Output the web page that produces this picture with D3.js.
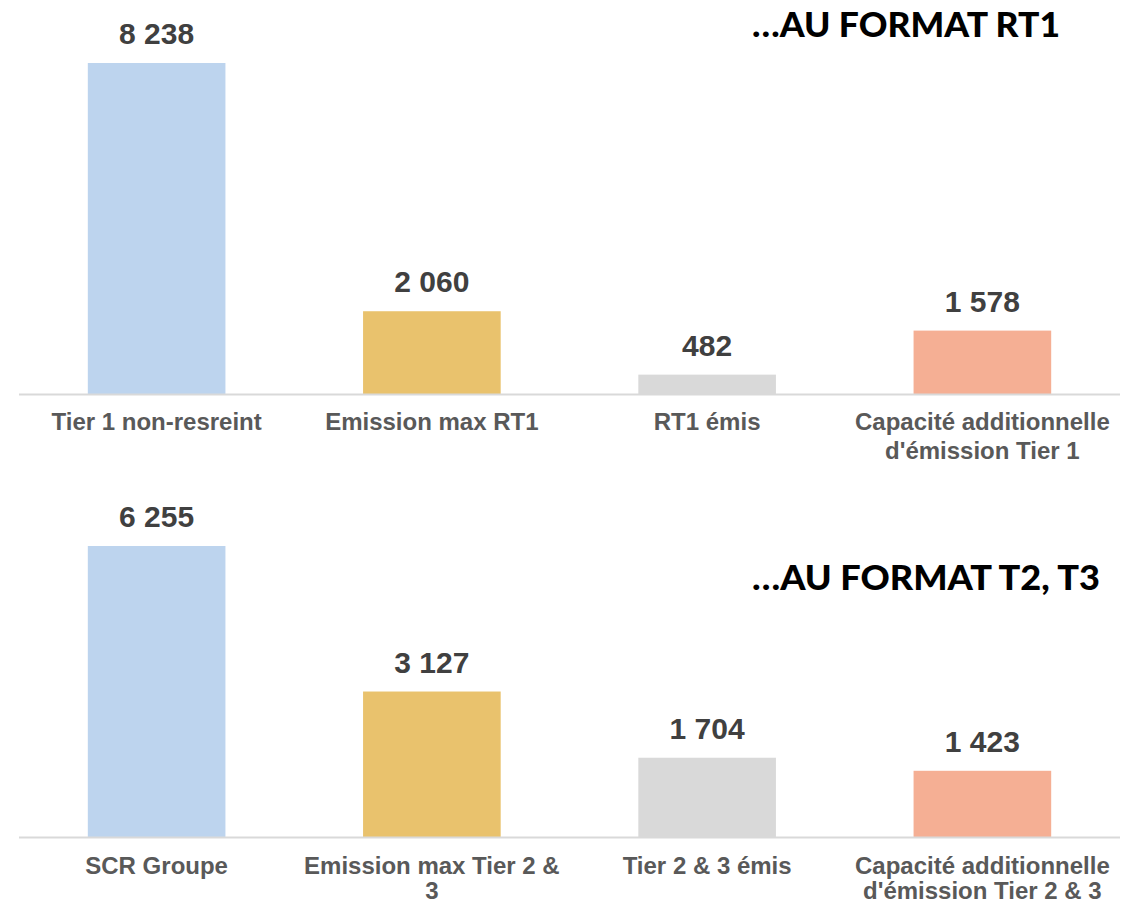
<!DOCTYPE html>
<html>
<head>
<meta charset="utf-8">
<script src="https://cdn.jsdelivr.net/npm/d3@7"></script>
<style>
  body { margin: 0; background: #fff; }
  svg { display: block; }
</style>
</head>
<body>
<div id="chart"></div>
<script>
// data
var topCategories = ['Tier 1 non-resreint', 'Emission max RT1', 'RT1 émis', 'Capacité additionnelle|d\'émission Tier 1'];
var topValues = [8238, 2060, 482, 1578];
var bottomCategories = ['SCR Groupe', 'Emission max Tier 2 &|3', 'Tier 2 & 3 émis', 'Capacité additionnelle|d\'émission Tier 2 & 3'];
var bottomValues = [6255, 3127, 1704, 1423];
var colors = ['#bdd4ee', '#e9c26d', '#d9d9d9', '#f5af94'];
var titles = ['…AU FORMAT RT1', '…AU FORMAT T2, T3'];

var width = 1127, height = 902;

var svg = d3.select('#chart').append('svg')
    .attr('width', width)
    .attr('height', height);

var fmt = function(v) {
    return d3.format(',')(v).replace(/,/g, ' ');
};

function drawPanel(cats, vals, opts) {
    var g = svg.append('g');

    var x = d3.scaleBand()
        .domain(cats)
        .range([19, 1120])
        .paddingInner(0.5)
        .paddingOuter(0.25);

    var y = d3.scaleLinear()
        .domain([0, opts.max])
        .range([opts.base, opts.base - opts.max * opts.ppu]);

    g.selectAll('rect.bar')
        .data(vals)
        .enter().append('rect')
        .attr('class', 'bar')
        .attr('x', function(d, i) { return x(cats[i]); })
        .attr('width', x.bandwidth())
        .attr('y', function(d) { return y(d); })
        .attr('height', function(d) { return y(0) - y(d); })
        .attr('fill', function(d, i) { return colors[i]; });

    // baseline
    g.append('line')
        .attr('x1', 19).attr('x2', 1120)
        .attr('y1', y(0) + 0.5).attr('y2', y(0) + 0.5)
        .attr('stroke', '#d9d9d9')
        .attr('stroke-width', 2);

    // value labels
    g.selectAll('text.val')
        .data(vals)
        .enter().append('text')
        .attr('class', 'val')
        .attr('x', function(d, i) { return x(cats[i]) + x.bandwidth() / 2; })
        .attr('y', function(d) { return y(d) - 19; })
        .attr('text-anchor', 'middle')
        .style('font-family', '"Liberation Sans", Arial, sans-serif')
        .style('font-weight', 'bold')
        .style('font-size', '30px')
        .style('fill', '#404040')
        .text(fmt);

    // category labels
    var labels = g.selectAll('text.cat')
        .data(cats)
        .enter().append('text')
        .attr('class', 'cat')
        .attr('x', function(d) { return x(d) + x.bandwidth() / 2; })
        .attr('y', y(0) + opts.labelOff)
        .attr('text-anchor', 'middle')
        .style('font-family', '"Liberation Sans", Arial, sans-serif')
        .style('font-weight', 'bold')
        .style('font-size', '24px')
        .style('fill', '#595959');

    labels.each(function(d) {
        var t = d3.select(this);
        d.split('|').forEach(function(line, i) {
            t.append('tspan')
                .attr('x', t.attr('x'))
                .attr('dy', i ? opts.lineH : 0)
                .text(line);
        });
    });

    // title
    svg.append('text')
        .attr('x', 752)
        .attr('y', opts.titleY)
        .attr('textLength', opts.titleW)
        .attr('lengthAdjust', 'spacingAndGlyphs')
        .style('font-family', 'Lato, "DejaVu Sans", sans-serif')
        .style('font-weight', 900)
        .style('font-size', '35px')
        .style('fill', '#000')
        .text(opts.title);
}

drawPanel(topCategories, topValues, { max: 9000, base: 394, ppu: 331 / 8238, labelOff: 36, lineH: 29, titleY: 37, titleW: 308, title: titles[0] });
drawPanel(bottomCategories, bottomValues, { max: 7000, base: 837, ppu: 291 / 6255, labelOff: 37, lineH: 25, titleY: 590, titleW: 348, title: titles[1] });
</script>
</body>
</html>
